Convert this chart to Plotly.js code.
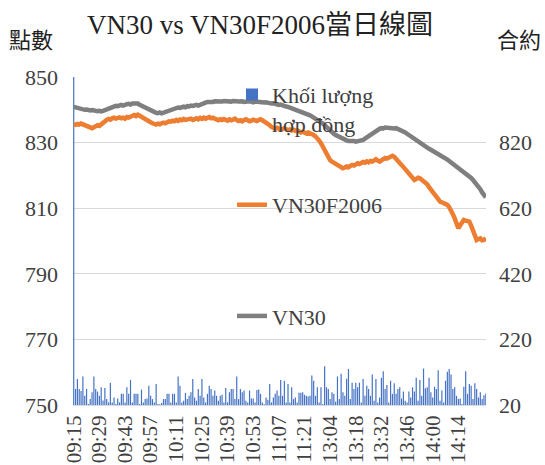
<!DOCTYPE html>
<html>
<head>
<meta charset="utf-8">
<script src="https://cdn.plot.ly/plotly-3.0.1.min.js"></script>
<style>html,body{margin:0;padding:0;background:#fff;}#chart{width:545px;height:465px;}</style>
</head>
<body>
<div id="chart"></div>
<script>
// Trading sessions (category axis of minutes)
const sessions = [["09:15", "11:30"], ["13:00", "14:29"]];
const tickLabels = ["09:15","09:29","09:43","09:57","10:11","10:25","10:39","10:53","11:07","11:21","13:04","13:18","13:32","13:46","14:00","14:14"];
const leftTicks = [750, 770, 790, 810, 830, 850];
const rightTicks = [20, 220, 420, 620, 820];

// Khối lượng hợp đồng (contracts per minute)
const volume = [1500,
 69, 99, 69, 63, 107, 48, 69, 23, 38, 59,
 107, 69, 61, 48, 74, 34, 72, 38, 28, 88,
 28, 43, 23, 40, 28, 54, 54, 28, 74, 54,
 96, 28, 54, 54, 54, 23, 67, 28, 38, 40,
 79, 48, 38, 28, 84, 23, 22, 26, 38, 38,
 54, 54, 28, 54, 54, 28, 107, 79, 28, 33,
 57, 38, 48, 59, 99, 43, 33, 69, 48, 99,
 43, 28, 54, 79, 69, 48, 64, 48, 33, 48,
 51, 28, 72, 28, 59, 69, 69, 38, 107, 38,
 69, 59, 64, 33, 28, 64, 40, 40, 28, 66,
 67, 54, 28, 22, 43, 36, 84, 28, 43, 54,
 64, 48, 96, 48, 94, 28, 84, 28, 74, 38,
 43, 28, 57, 57, 59, 51, 48, 46, 48, 110,
 94, 48, 74, 28, 74, 23, 138, 74, 69, 38,
 59, 54, 30, 107, 38, 115, 59, 48, 100,
 130, 38, 88, 69, 88, 74, 88, 28, 99, 48,
 79, 69, 48, 113, 33, 99, 28, 43, 103, 123,
 69, 81, 28, 94, 54, 86, 54, 69, 74, 40,
 61, 33, 28, 61, 43, 74, 61, 103, 33, 96,
 48, 131, 71, 74, 103, 59, 43, 76, 69, 126,
 33, 64, 28, 94, 121, 130, 113, 69, 74, 48,
 38, 40, 23, 76, 123, 54, 84, 79, 38, 86,
 69, 43, 59, 38, 50, 55];

// VN30F2006
const vn30f = [
 835.6, 835.4, 835.7, 835.5, 835.8, 835.6, 835.3, 835.1, 834.8, 834.5, 834.4,
 834.7, 835.0, 835.3, 835.1, 835.6, 836.2, 836.5, 836.9, 837.2, 837.0,
 837.4, 837.6, 837.3, 837.5, 837.7, 837.4, 837.6, 837.3, 837.8, 837.6,
 838.0, 838.2, 838.4, 838.1, 838.5, 838.2, 837.8, 837.4, 837.1, 836.8,
 836.5, 836.2, 835.9, 835.7, 835.5, 835.8, 835.6, 835.9, 836.1, 835.9,
 836.3, 836.5, 836.4, 836.7, 836.5, 836.9, 836.6, 837.0, 836.8, 837.2,
 836.9, 837.1, 837.0, 837.3, 836.9, 837.2, 837.4, 837.1, 837.5, 837.2,
 837.6, 837.3, 837.5, 837.8, 837.4, 837.6, 837.3, 837.0, 836.8, 837.1,
 836.9, 837.2, 837.0, 836.7, 837.1, 836.8, 837.0, 837.3, 836.9, 836.6,
 836.8, 836.5, 836.9, 837.1, 836.8, 836.5, 836.7, 837.0, 836.8, 836.6,
 836.9, 837.1, 836.8, 836.5, 836.2, 835.8, 835.3, 834.8, 834.4, 834.2,
 834.5, 834.3, 834.0, 834.2, 834.4, 834.1, 833.8, 834.0, 833.7, 833.9,
 833.6, 833.8, 833.4, 833.1, 833.3, 833.0, 832.8, 833.1, 832.9, 832.6,
 832.3, 831.9, 831.4, 830.6, 829.8,
 828.6, 827.5, 826.4, 825.3, 824.6, 824.2, 823.8, 823.5, 823.1, 822.8,
 822.5, 822.2, 822.4, 822.7, 822.5, 822.9, 823.2, 823.0, 823.4, 823.7,
 823.5, 823.8, 824.1, 823.9, 824.3, 824.0, 824.4, 824.2, 824.6, 824.9,
 824.5, 824.2, 824.6, 825.0, 825.3, 825.1, 825.5, 825.8, 826.0, 825.7,
 824.9, 824.4, 823.8, 823.2, 822.6, 822.0, 821.3, 820.6, 819.9, 819.2,
 818.6, 818.9, 819.3, 819.1, 818.7, 818.4, 818.1, 817.3, 816.4, 815.5,
 814.9, 814.2, 813.5, 812.7, 812.0, 811.8, 811.6, 811.5, 811.0, 810.3,
 809.5, 808.2, 806.9, 805.3, 803.9, 804.8, 805.7, 806.4, 806.2, 805.9,
 805.9, 804.7, 803.4, 801.8, 800.3, 800.6, 800.8, 800.2, 800.3, 800.9];

// VN30
const vn30 = [
 840.9, 840.7, 840.5, 840.6, 840.3, 840.2, 840.0, 840.1, 839.9, 839.8, 839.9,
 839.7, 839.8, 839.6, 839.7, 839.5, 839.7, 839.9, 840.2, 840.4, 840.6,
 840.9, 841.0, 841.2, 841.1, 841.4, 841.5, 841.3, 841.6, 841.7, 841.8,
 841.6, 841.9, 842.0, 841.8, 841.9, 841.5, 841.2, 840.9, 840.6, 840.3,
 840.0, 839.7, 839.5, 839.3, 839.1, 839.0, 839.2, 838.9, 839.1, 839.3,
 839.6, 839.9, 840.1, 840.3, 840.5, 840.4, 840.7, 840.6, 840.9, 841.0,
 840.8, 841.1, 841.0, 841.3, 841.2, 841.4, 841.5, 841.3, 841.6, 841.7,
 841.9, 842.2, 842.4, 842.3, 842.5, 842.4, 842.6, 842.5, 842.4, 842.6,
 842.5, 842.7, 842.6, 842.4, 842.6, 842.5, 842.7, 842.8, 842.6, 842.5,
 842.7, 842.6, 842.4, 842.5, 842.7, 842.6, 842.5, 842.3, 842.5, 842.4,
 842.6, 842.5, 842.4, 842.2, 842.3, 842.1, 842.2, 841.9, 842.0, 841.8,
 841.7, 841.5, 841.6, 841.3, 841.2, 841.0, 840.9, 840.7, 840.5, 840.3,
 840.2, 840.0, 839.8, 839.6, 839.4, 839.1, 838.9, 838.6, 838.3, 838.0,
 837.7, 837.4, 837.0, 836.6, 836.2,
 835.8, 835.2, 834.6, 834.1, 833.6, 833.2, 832.7, 832.3, 832.0, 831.6,
 831.3, 831.1, 830.9, 830.7, 830.5, 830.6, 830.4, 830.5, 830.3, 830.4,
 830.6, 830.5, 830.8, 831.2, 831.6, 832.0, 832.5, 832.8, 833.2, 833.5,
 833.9, 834.2, 834.4, 834.3, 834.6, 834.5, 834.4, 834.6, 834.5, 834.3,
 834.4, 834.2, 834.0, 833.7, 833.4, 833.1, 832.7, 832.3, 831.8, 831.4,
 831.0, 830.6, 830.2, 829.8, 829.5, 829.1, 828.8, 828.5, 828.1, 827.8,
 827.5, 827.1, 826.8, 826.5, 826.2, 825.9, 825.5, 825.1, 824.8, 824.4,
 824.0, 823.6, 823.2, 822.8, 822.4, 822.0, 821.6, 821.2, 820.7, 820.2,
 819.7, 819.2, 818.6, 818.0, 817.4, 816.7, 815.8, 814.8, 813.9, 813.3];

function minutesOf(s) { const p = s.split(":"); return (+p[0]) * 60 + (+p[1]); }
function fmt(m) { const h = Math.floor(m / 60), mm = m % 60; return (h < 10 ? "0" : "") + h + ":" + (mm < 10 ? "0" : "") + mm; }
const times = [];
sessions.forEach(function (s) { for (let m = minutesOf(s[0]); m <= minutesOf(s[1]); m++) times.push(fmt(m)); });
if (times.length !== volume.length || times.length !== vn30.length || times.length !== vn30f.length) {
  throw new Error("length mismatch " + times.length + " " + volume.length + " " + vn30.length + " " + vn30f.length);
}

const serif = "'Liberation Serif', 'Times New Roman', 'Noto Sans CJK TC', serif";
const cjk = "'Noto Sans CJK TC', 'Liberation Serif', sans-serif";
const txt = "#404040";

const traces = [
  { type: "bar", name: "Khối lượng<br>hợp đồng", x: times, y: volume, yaxis: "y",
    marker: { color: "#4472C4", line: { width: 0 } }, legend: "legend" },
  { type: "scatter", mode: "lines", name: "VN30F2006", x: times, y: vn30f, yaxis: "y2",
    line: { color: "#ED7D31", width: 4.5 }, legend: "legend2" },
  { type: "scatter", mode: "lines", name: "VN30", x: times, y: vn30, yaxis: "y2",
    line: { color: "#7F7F7F", width: 4.5 }, legend: "legend3" }
];

const legendBase = { bgcolor: "rgba(0,0,0,0)", borderwidth: 0, font: { family: serif, size: 22, color: txt },
  xanchor: "left", yanchor: "middle", x: 0.385, valign: "top" };

const layout = {
  width: 545, height: 465,
  margin: { l: 73, r: 59, t: 77, b: 60, pad: 0 },
  paper_bgcolor: "#fff", plot_bgcolor: "#fff",
  font: { family: serif, color: txt },
  title: { text: "VN30 vs VN30F2006當日線圖", font: { family: serif, size: 27, color: "#222" },
    xref: "container", yref: "container", x: 260 / 545, y: 1 - 25 / 465, xanchor: "center", yanchor: "middle" },
  bargap: 0.35,
  xaxis: { type: "category", categoryorder: "trace", range: [-0.4, times.length - 0.9],
    tickmode: "array", tickvals: tickLabels, ticktext: tickLabels, tickangle: -90,
    tickfont: { family: serif, size: 21, color: txt }, showgrid: false, zeroline: false,
    showline: true, linecolor: "#d9d9d9", linewidth: 1, ticks: "", ticklen: 0, ticklabelstandoff: 1,
    automargin: false },
  yaxis: { side: "right", range: [20, 1020], tickmode: "array", tickvals: rightTicks,
    ticktext: rightTicks.map(String), showgrid: false, zeroline: false, showline: false, ticks: "",
    tickfont: { family: serif, size: 22, color: txt }, ticklabelstandoff: 12 },
  yaxis2: { overlaying: "y", side: "left", range: [750, 850], tickmode: "array", tickvals: leftTicks,
    ticktext: leftTicks.map(String), showgrid: true, gridcolor: "#d9d9d9", gridwidth: 1,
    zeroline: false, showline: false, ticks: "",
    tickfont: { family: serif, size: 22, color: txt }, ticklabelstandoff: 14 },
  showlegend: true,
  legend: Object.assign({}, legendBase, { y: 0.902, yanchor: "middle" }),
  legend2: Object.assign({}, legendBase, { y: 0.61 }),
  legend3: Object.assign({}, legendBase, { y: 0.271 }),
  annotations: [
    { text: "點數", xref: "paper", yref: "paper", x: (31 - 73) / 413, y: (405 - 38) / 328,
      showarrow: false, xanchor: "center", yanchor: "middle", font: { family: cjk, size: 22, color: "#222" } },
    { text: "合約", xref: "paper", yref: "paper", x: (519 - 73) / 413, y: (405 - 38) / 328,
      showarrow: false, xanchor: "center", yanchor: "middle", font: { family: cjk, size: 22, color: "#222" } }
  ]
};

Plotly.newPlot("chart", traces, layout, { displayModeBar: false, staticPlot: true });
</script>
</body>
</html>
